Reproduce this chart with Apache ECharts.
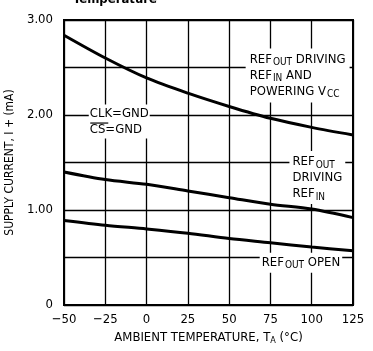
<!DOCTYPE html>
<html><head><meta charset="utf-8">
<script src="https://cdn.jsdelivr.net/npm/echarts@6/dist/echarts.min.js"></script>
<style>html,body{margin:0;padding:0;background:#fff}#c{width:373px;height:351px}</style>
</head><body><div id="c"></div>
<script>
const temps = [-50, -25, 0, 25, 50, 75, 100, 125];
const xTickLabels = ['\u221250', '\u221225', '0', '25', '50', '75', '100', '125'];
const yTickLabels = {0: '0', 1: '1.00', 2: '2.00', 3: '3.00'};
const drivingPowering = [2.84, 2.60, 2.39, 2.23, 2.09, 1.965, 1.87, 1.79];
const drivingRefIn = [1.40, 1.32, 1.27, 1.20, 1.13, 1.06, 1.01, 0.92];
const refOutOpen = [0.89, 0.84, 0.80, 0.755, 0.70, 0.656, 0.61, 0.57];

const FONT = '"Liberation Sans Narrow","DejaVu Sans Condensed","Liberation Sans",Arial,sans-serif';
const chart = echarts.init(document.getElementById('c'));

function mk(vals) {
  return {
    type: 'line', smooth: 0.3, symbol: 'none', silent: true,
    lineStyle: {color: '#000', width: 3},
    data: temps.map((t, i) => [t, vals[i]])
  };
}
const richBase = {
  a: {fontFamily: FONT, fontSize: 13, color: '#000', lineHeight: 16},
  s: {fontFamily: FONT, fontSize: 10, color: '#000', lineHeight: 16, padding: [6, 0, 0, 1]}
};

chart.setOption({
  animation: false,
  textStyle: {fontFamily: FONT},
  title: {text: 'Temperature', left: 68, top: -12, textStyle: {fontFamily: FONT, fontSize: 13, fontWeight: 'bold', color: '#000'}},
  grid: {left: 64, right: 20, top: 20, bottom: 46, show: true, borderColor: '#000', borderWidth: 2,
    backgroundColor: 'transparent', containLabel: false, outerBoundsMode: 'none'},
  xAxis: {
    type: 'value', min: -50, max: 125, interval: 25,
    name: 'AMBIENT TEMPERATURE, {a|T}{s|A}{a| (°C)}', nameLocation: 'middle', nameGap: 25,
    nameTextStyle: {fontFamily: FONT, fontSize: 13, color: '#000', rich: {a: {fontFamily: FONT, fontSize: 13, color: '#000'}, s: {fontFamily: FONT, fontSize: 9, color: '#000', padding: [6, 0, 0, 0]}}},
    axisLine: {show: true, onZero: false, lineStyle: {color: '#000', width: 2}},
    axisTick: {show: false},
    axisLabel: {color: '#000', fontSize: 13, fontFamily: FONT, margin: 8,
      formatter: v => xTickLabels[temps.indexOf(v)]},
    splitLine: {show: true, lineStyle: {color: '#000', width: 1.3}}
  },
  yAxis: {
    type: 'value', min: 0, max: 3, interval: 0.5,
    name: 'SUPPLY CURRENT, I + (mA)', nameLocation: 'middle', nameGap: 42,
    nameTextStyle: {fontFamily: FONT, fontSize: 12, color: '#000'},
    axisLine: {show: true, onZero: false, lineStyle: {color: '#000', width: 2}},
    axisTick: {show: false},
    axisLabel: {color: '#000', fontSize: 13, fontFamily: FONT, margin: 11,
      formatter: v => (yTickLabels[v] !== undefined ? yTickLabels[v] : '')},
    splitLine: {show: true, lineStyle: {color: '#000', width: 1.3}}
  },
  series: [mk(drivingPowering), mk(drivingRefIn), mk(refOutOpen)]
});

// annotations anchored in data coordinates
function px(x, y) { return chart.convertToPixel({gridIndex: 0}, [x, y]); }
function label(x, y, text, pad, extra) {
  const p = px(x, y);
  const children = [{
    type: 'text', x: 0, y: 0, z: 100,
    style: {text: text, rich: richBase, fill: '#000', font: '13px ' + FONT,
      backgroundColor: '#fff', padding: pad || [2, 3, 2, 3]}
  }].concat(extra || []);
  return {type: 'group', x: p[0], y: p[1], z: 100, children: children};
}
chart.setOption({
  graphic: [
    label(60, 2.70, '{a|REF}{s|OUT}{a| DRIVING}\n{a|REF}{s|IN}{a| AND}\n{a|POWERING V}{s|CC}', [3, 4, 3, 4]),
    label(-35, 2.11, '{a|CLK=GND}\n{a|CS=GND}', [1, 1, 1, 1], [
      {type: 'line', z: 101, shape: {x1: 1.5, y1: 18.5, x2: 19.5, y2: 18.5}, style: {stroke: '#000', lineWidth: 1.2}}
    ]),
    label(86.5, 1.62, '{a|REF}{s|OUT}\n{a|DRIVING}\n{a|REF}{s|IN}', [3, 3, 2, 3]),
    label(68.5, 0.55, '{a|REF}{s|OUT}{a| OPEN}', [2, 2, 2, 2])
  ]
});
</script></body></html>
